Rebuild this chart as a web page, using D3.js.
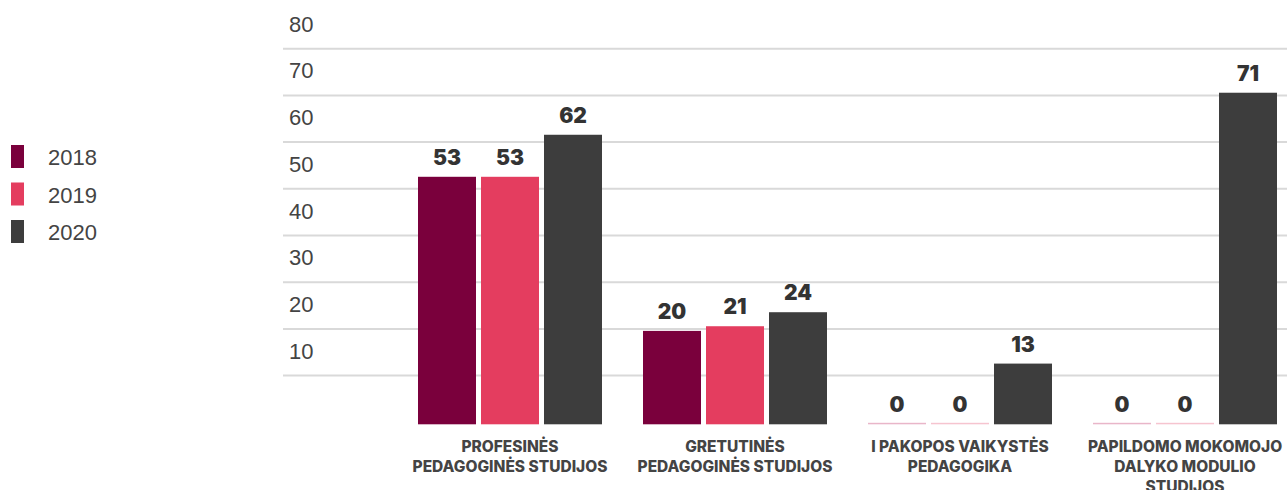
<!DOCTYPE html>
<html><head><meta charset="utf-8">
<script src="https://cdn.jsdelivr.net/npm/d3@7"></script>
<style>
html,body{margin:0;padding:0;background:#fff;}
svg{display:block;}
</style></head>
<body>
<svg id="chart" width="1287" height="490"></svg>
<script>
const categories = [
  ["PROFESINĖS", "PEDAGOGINĖS STUDIJOS"],
  ["GRETUTINĖS", "PEDAGOGINĖS STUDIJOS"],
  ["I PAKOPOS VAIKYSTĖS", "PEDAGOGIKA"],
  ["PAPILDOMO MOKOMOJO", "DALYKO MODULIO", "STUDIJOS"]
];
const years = ["2018", "2019", "2020"];
const values2018 = [53, 20, 0, 0];
const values2019 = [53, 21, 0, 0];
const values2020 = [62, 24, 13, 71];
const yTicks = [10, 20, 30, 40, 50, 60, 70, 80];
const colors = ["#7a003c", "#e43d5f", "#3d3d3d"];
const zeroColors = ["#e9b6c9", "#f6c4cf", "#3d3d3d"];

const series = [values2018, values2019, values2020];
const svg = d3.select("#chart");
const catKeys = categories.map((c, i) => i);

const x0 = d3.scaleBand().domain(catKeys).range([418, 1277]).paddingInner(41/225).paddingOuter(0);
const x1 = d3.scaleBand().domain(years).range([0, x0.bandwidth()]).paddingInner(5/63).paddingOuter(0);
const y = d3.scaleLinear().domain([0, 80]).range([424.3, 50.7]);

const tickFont = "'Liberation Sans', Arial, sans-serif";
const boldFont = "Inter, 'Open Sans', sans-serif";

// gridlines
const grid = svg.append("g");
grid.selectAll("line").data(yTicks).join("line")
  .attr("x1", 283).attr("x2", 1287)
  .attr("y1", d => y(d) - 2).attr("y2", d => y(d) - 2)
  .attr("stroke", "#d9d9d9").attr("stroke-width", 2);
grid.selectAll("text").data(yTicks).join("text")
  .attr("x", 289).attr("y", d => y(d) - 19)
  .attr("font-family", tickFont).attr("font-size", 22)
  .attr("fill", "#444").text(d => d);

// bars
const groups = svg.append("g").selectAll("g").data(catKeys).join("g")
  .attr("transform", d => `translate(${x0(d)},0)`);
const barData = ci => years.map((yr, si) => ({yr, si, v: series[si][ci]}));
groups.selectAll("rect").data(barData).join("rect")
  .attr("x", d => x1(d.yr))
  .attr("width", x1.bandwidth())
  .attr("y", d => d.v === 0 ? y(0) - 1.5 : y(d.v))
  .attr("height", d => d.v === 0 ? 1.5 : y(0) - y(d.v))
  .attr("fill", d => d.v === 0 ? zeroColors[d.si] : colors[d.si]);
groups.selectAll("text").data(barData).join("text")
  .attr("x", d => x1(d.yr) + x1.bandwidth() / 2)
  .attr("y", d => y(d.v) - 12)
  .attr("text-anchor", "middle")
  .attr("font-family", boldFont).attr("font-weight", 900).attr("font-size", 21)
  .attr("fill", "#333").text(d => d.v);

// x labels
const xl = svg.append("g").selectAll("text").data(catKeys).join("text")
  .attr("x", d => x0(d) + x0.bandwidth() / 2)
  .attr("y", 452)
  .attr("text-anchor", "middle")
  .attr("font-family", boldFont).attr("font-weight", 800).attr("font-size", 15.5)
  .attr("fill", "#444");
xl.selectAll("tspan").data(d => categories[d]).join("tspan")
  .attr("x", function() { return d3.select(this.parentNode).attr("x"); })
  .attr("dy", (d, i) => i === 0 ? 0 : 20)
  .text(d => d);

// legend
const lg = svg.append("g").selectAll("g").data(years).join("g")
  .attr("transform", (d, i) => `translate(11,${145 + i * 37.5})`);
lg.append("rect").attr("width", 13).attr("height", 23)
  .attr("fill", (d, i) => colors[i]);
lg.append("text").attr("x", 37).attr("y", 20)
  .attr("font-family", tickFont).attr("font-size", 22)
  .attr("fill", "#444").text(d => d);
</script>
</body></html>
